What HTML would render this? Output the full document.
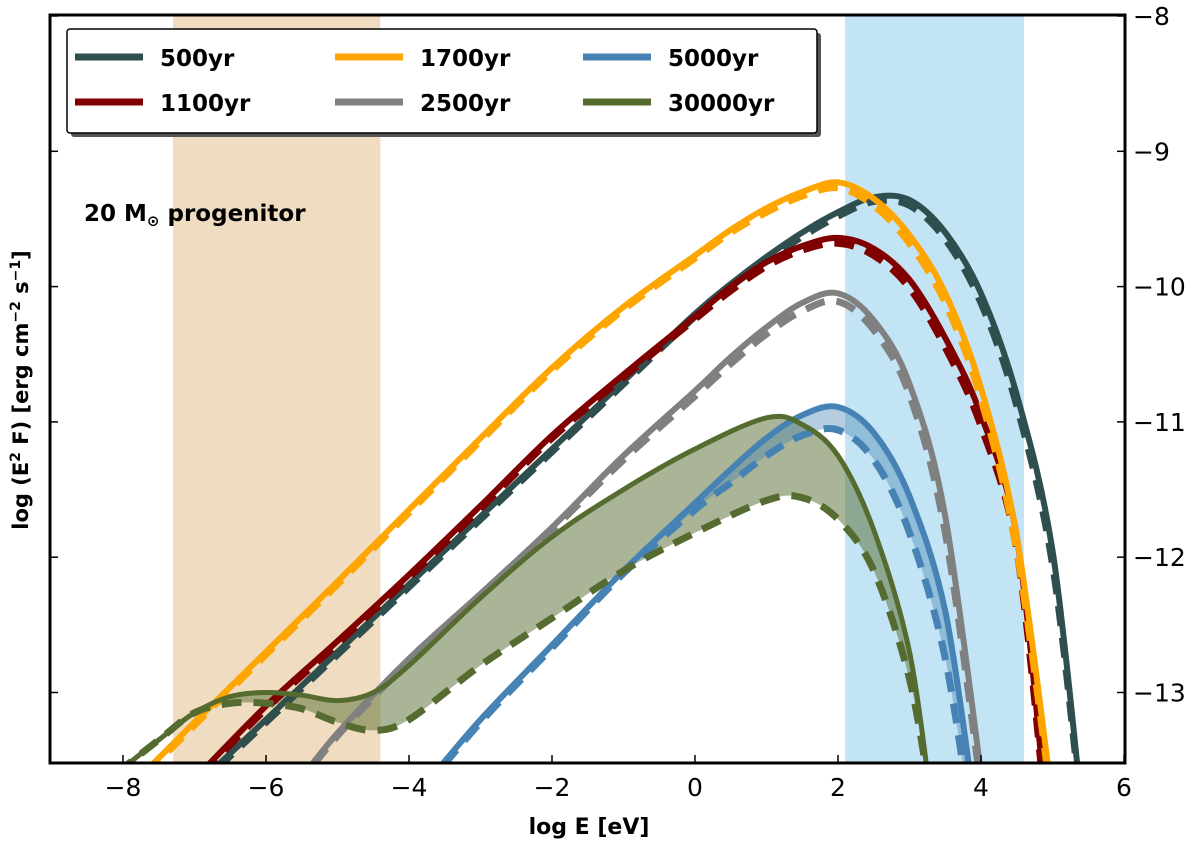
<!DOCTYPE html>
<html><head><meta charset="utf-8"><style>
body{margin:0;background:#fff;}
svg text{font-family:"DejaVu Sans","Liberation Sans",sans-serif;}
</style></head><body>
<svg id="chart" width="1200" height="844" xmlns="http://www.w3.org/2000/svg">
<defs><clipPath id="plotclip"><rect x="50" y="15" width="1075" height="748"/></clipPath></defs>
<g id="bands" clip-path="url(#plotclip)"></g>
<g id="fills" clip-path="url(#plotclip)"></g>
<g id="curves" clip-path="url(#plotclip)"></g>
<rect x="50" y="15" width="1075" height="748" fill="none" stroke="#000" stroke-width="3"/>
<g id="axes"></g>
<text x="84" y="221" font-size="23" font-weight="bold">20 M<tspan font-size="15" dy="5">⊙</tspan><tspan dy="-5"> progenitor</tspan></text>
<text x="589" y="834" font-size="22" font-weight="bold" text-anchor="middle">log E [eV]</text>
<text transform="translate(28,390) rotate(-90)" font-size="21" font-weight="bold" text-anchor="middle">log (E<tspan font-size="14" dy="-8">2</tspan><tspan dy="8"> F) [erg cm</tspan><tspan font-size="14" dy="-8">−2</tspan><tspan dy="8"> s</tspan><tspan font-size="14" dy="-8">−1</tspan><tspan dy="8">]</tspan></text>
<g id="legend"></g>
</svg>
<script>
const xTicks=[-8,-6,-4,-2,0,2,4,6];
const yTicks=[-8,-9,-10,-11,-12,-13];
const bandTan=[-7.3,-4.4];
const bandBlue=[2.1,4.6];
const names=['500yr','1700yr','5000yr','1100yr','2500yr','30000yr'];
const colors={'500yr':'#2f4f4f','1100yr':'#800000','1700yr':'#ffa500','2500yr':'#808080','5000yr':'#4682b4','30000yr':'#556b2f'};
const E500=[-7,-6,-5,-4,-3,-2,-1,0,0.5,1,1.5,2,2.5,3,3.5,4,4.5,5,5.4];
const F500=[-13.7,-13.2,-12.7,-12.2,-11.7,-11.2,-10.7,-10.2,-9.98,-9.78,-9.6,-9.45,-9.34,-9.36,-9.6,-10.05,-10.8,-11.95,-13.8];
const D500=[-13.72,-13.22,-12.72,-12.22,-11.72,-11.22,-10.72,-10.22,-10.0,-9.81,-9.63,-9.48,-9.37,-9.4,-9.65,-10.12,-10.88,-12.05,-13.85];
const E1100=[-7.2,-6,-5,-4,-3,-2,-1,0,0.5,1,1.5,2,2.5,3,3.5,4,4.5,4.9];
const F1100=[-13.75,-13.1,-12.62,-12.13,-11.62,-11.1,-10.65,-10.22,-10.0,-9.82,-9.7,-9.64,-9.72,-9.95,-10.38,-10.95,-11.85,-13.8];
const D1100=[-13.77,-13.12,-12.64,-12.15,-11.64,-11.12,-10.67,-10.24,-10.03,-9.85,-9.73,-9.68,-9.77,-10.01,-10.45,-11.03,-11.95,-13.85];
const E1700=[-8,-7,-6,-5,-4,-3,-2,-1,0,0.5,1,1.5,2,2.5,3,3.5,4,4.5,5];
const F1700=[-13.75,-13.22,-12.7,-12.18,-11.65,-11.12,-10.6,-10.15,-9.77,-9.58,-9.42,-9.3,-9.23,-9.35,-9.62,-10.05,-10.75,-11.85,-13.8];
const D1700=[-13.77,-13.24,-12.72,-12.2,-11.67,-11.14,-10.62,-10.17,-9.79,-9.6,-9.45,-9.33,-9.27,-9.4,-9.68,-10.12,-10.83,-11.95,-13.85];
const E2500=[-5.6,-5,-4,-3,-2,-1,0,0.5,1,1.5,2,2.5,3,3.5,4.05];
const F2500=[-13.7,-13.3,-12.75,-12.27,-11.78,-11.25,-10.77,-10.52,-10.3,-10.12,-10.05,-10.25,-10.72,-11.7,-13.8];
const D2500=[-13.72,-13.32,-12.77,-12.29,-11.8,-11.28,-10.81,-10.57,-10.35,-10.18,-10.11,-10.32,-10.8,-11.82,-13.9];
const E5000=[-3.8,-3,-2,-1,0,0.5,1,1.5,2,2.5,3,3.5,3.9];
const F5000=[-13.7,-13.2,-12.65,-12.1,-11.6,-11.35,-11.12,-10.95,-10.89,-11.08,-11.55,-12.4,-13.8];
const D5000=[-13.72,-13.22,-12.67,-12.12,-11.65,-11.45,-11.25,-11.1,-11.06,-11.28,-11.82,-12.75,-14.1];
const E30000=[-8.1,-7.5,-7,-6.5,-6,-5.5,-5,-4.5,-4,-3,-2,-1,0,1,1.5,2,2.5,3,3.3];
const F30000=[-13.6,-13.35,-13.15,-13.03,-13.0,-13.02,-13.06,-13.0,-12.8,-12.3,-11.85,-11.5,-11.2,-10.97,-11.02,-11.25,-11.8,-12.7,-13.8];
const D30000=[-13.6,-13.35,-13.15,-13.08,-13.08,-13.12,-13.22,-13.28,-13.2,-12.8,-12.45,-12.1,-11.82,-11.58,-11.56,-11.72,-12.1,-12.9,-13.8];

const NS='http://www.w3.org/2000/svg';
const X=v=>695+71.5*v;
const Y=v=>16+(-8-v)*135.3;
function mk(tag,parent,attrs){const e=document.createElementNS(NS,tag);for(const k in attrs)e.setAttribute(k,attrs[k]);parent.appendChild(e);return e;}
function pathD(es,fs,move=true){
  const p=es.map((e,i)=>[X(e),Y(fs[i])]);
  let d=(move?'M':'L')+p[0][0].toFixed(1)+','+p[0][1].toFixed(1);
  for(let i=0;i<p.length-1;i++){
    const p0=p[Math.max(0,i-1)],p1=p[i],p2=p[i+1],p3=p[Math.min(p.length-1,i+2)];
    const c1=[p1[0]+(p2[0]-p0[0])/6,p1[1]+(p2[1]-p0[1])/6];
    const c2=[p2[0]-(p3[0]-p1[0])/6,p2[1]-(p3[1]-p1[1])/6];
    d+=`C${c1[0].toFixed(1)},${c1[1].toFixed(1)} ${c2[0].toFixed(1)},${c2[1].toFixed(1)} ${p2[0].toFixed(1)},${p2[1].toFixed(1)}`;
  }
  return d;
}
const bands=document.getElementById('bands');
const b1=mk('rect',bands,{x:X(bandTan[0]),y:15,width:X(bandTan[1])-X(bandTan[0]),height:748,fill:'#f0dcc0'});


const b2=mk('rect',bands,{x:X(bandBlue[0]),y:15,width:X(bandBlue[1])-X(bandBlue[0]),height:748,fill:'#c2e4f4'});



const fills=document.getElementById('fills');
function fillBetween(es,a,b,color,op,name){
  const d=pathD(es,a)+pathD(es.slice().reverse(),b.slice().reverse(),false)+'Z';
  const f=mk('path',fills,{d:d,fill:color,'fill-opacity':op});
  
  
}
fillBetween(E30000,F30000,D30000,'#556b2f',0.5,'fill-30000yr');
fillBetween(E5000,F5000,D5000,'#4682b4',0.4,'fill-5000yr');

const curves=document.getElementById('curves');
const series=[['500yr',E500,F500,D500],['1100yr',E1100,F1100,D1100],['1700yr',E1700,F1700,D1700],['2500yr',E2500,F2500,D2500],['5000yr',E5000,F5000,D5000],['30000yr',E30000,F30000,D30000]];
series.forEach(s=>{
  const c=colors[s[0]];
  const l2=mk('path',curves,{d:pathD(s[1],s[3]),fill:'none',stroke:c,'stroke-width':7,'stroke-dasharray':'20 12'});
  
  
  const l1=mk('path',curves,{d:pathD(s[1],s[2]),fill:'none',stroke:c,'stroke-width':s[0]==='30000yr'?5:6});
  
  
});

const axes=document.getElementById('axes');
xTicks.forEach(t=>{
  mk('line',axes,{x1:X(t),x2:X(t),y1:763,y2:755,stroke:'#000','stroke-width':1.5});
  const tx=mk('text',axes,{x:X(t),y:796,'font-size':25,'text-anchor':'middle'});
  tx.textContent=t<0?'−'+(-t):String(t);
  
  
});
yTicks.forEach(t=>{
  mk('line',axes,{x1:1125,x2:1117,y1:Y(t),y2:Y(t),stroke:'#000','stroke-width':1.5});
  mk('line',axes,{x1:50,x2:58,y1:Y(t),y2:Y(t),stroke:'#000','stroke-width':1.5});
  const tx=mk('text',axes,{x:1133,y:Y(t)+9,'font-size':25});
  tx.textContent='−'+(-t);
  
  
});

const lg=document.getElementById('legend');


mk('rect',lg,{x:71,y:33,width:750,height:104,fill:'#555',rx:3});
mk('rect',lg,{x:67,y:29,width:750,height:104,fill:'#fff',stroke:'#000','stroke-width':1.5,rx:3});
const cols=[75,335,583],rows=[57,102];
names.forEach((n,i)=>{
  const cx=cols[i%3],cy=rows[Math.floor(i/3)];
  const g=mk('g',lg,{});
  
  
  mk('line',g,{x1:cx,x2:cx+68,y1:cy,y2:cy,stroke:colors[n],'stroke-width':7});
  const t=mk('text',g,{x:cx+85,y:cy+9,'font-size':23,'font-weight':'bold'});
  t.textContent=n;
});
</script>
</body></html>
